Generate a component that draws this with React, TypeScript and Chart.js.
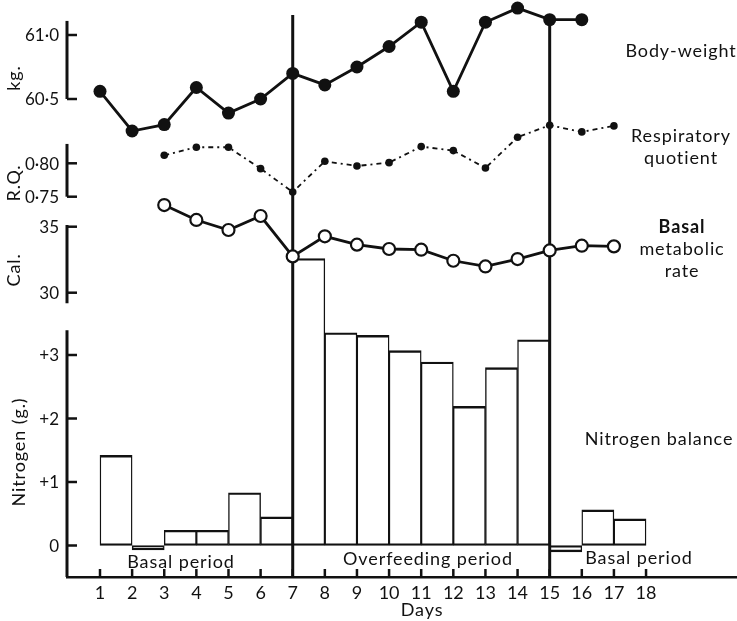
import React, { useEffect, useRef } from "react";
import { Chart, registerables } from "chart.js";

Chart.register(...registerables);

// ---------- data ----------
const dayTicks = [1, 2, 3, 4, 5, 6, 7, 8, 9, 10, 11, 12, 13, 14, 15, 16, 17, 18];

const weightDays = [1, 2, 3, 4, 5, 6, 7, 8, 9, 10, 11, 12, 13, 14, 15, 16];
const bodyWeight = [60.56, 60.25, 60.3, 60.59, 60.39, 60.5, 60.7, 60.61, 60.75, 60.91, 61.1, 60.56, 61.1, 61.21, 61.12, 61.12];

const rqDays = [3, 4, 5, 6, 7, 8, 9, 10, 11, 12, 13, 14, 15, 16, 17];
const respiratoryQuotient = [0.812, 0.824, 0.824, 0.792, 0.757, 0.803, 0.796, 0.801, 0.825, 0.819, 0.793, 0.839, 0.857, 0.847, 0.856];

const bmrDays = [3, 4, 5, 6, 7, 8, 9, 10, 11, 12, 13, 14, 15, 16, 17];
const basalMetabolicRate = [36.64, 35.51, 34.75, 35.81, 32.75, 34.27, 33.64, 33.31, 33.26, 32.42, 31.99, 32.55, 33.2, 33.56, 33.51];

// each bar spans from day d to day d+1
const nitrogenDays = [1, 2, 3, 4, 5, 6, 7, 8, 9, 10, 11, 12, 13, 14, 15, 16, 17];
const nitrogenBalance = [1.42, -0.07, 0.24, 0.24, 0.83, 0.45, 4.52, 3.35, 3.31, 3.07, 2.89, 2.19, 2.8, 3.24, -0.1, 0.56, 0.42];

const periodBoundaries = [7, 15];
const periodBoundaryTopKg = [61.156, 61.12];

const kgTicks = [60.5, 61.0];
const rqTicks = [0.75, 0.8];
const calTicks = [30, 35];
const nitrogenTicks = [0, 1, 2, 3];

// ---------- styling ----------
const INK = "#111111";
const FONT = "Lato, 'Open Sans', sans-serif";

const W = 737;
const H = 621;

const fmtDot = (v: number, digits: number) => v.toFixed(digits).replace(".", "\u00b7");

// visible axis segments (value ranges) with their tick labels
const axisSegments = [
  { id: "yKg", from: 60.5, to: 61.11, ticks: kgTicks, fmt: (v: number) => fmtDot(v, 1) },
  { id: "yRq", from: 0.75, to: 0.829, ticks: rqTicks, fmt: (v: number) => fmtDot(v, 2) },
  { id: "yCal", from: 29.2, to: 35.13, ticks: calTicks, fmt: (v: number) => String(v) },
  { id: "yN", from: -0.496, to: 3.39, ticks: nitrogenTicks, fmt: (v: number) => (v === 0 ? "0" : "+" + v) },
];

function resetCtx(ctx: CanvasRenderingContext2D) {
  ctx.setLineDash([]);
  ctx.lineDashOffset = 0;
  ctx.globalAlpha = 1;
  ctx.globalCompositeOperation = "source-over";
  ctx.shadowColor = "rgba(0,0,0,0)";
  ctx.shadowBlur = 0;
  ctx.lineJoin = "miter";
  ctx.lineCap = "butt";
  ctx.strokeStyle = INK;
  ctx.fillStyle = INK;
}

const decorPlugin = {
  id: "decor",
  afterDraw(chart: any) {
    const ctx = chart.ctx as CanvasRenderingContext2D;
    const left = chart.chartArea.left;
    ctx.save();
    resetCtx(ctx);
    ctx.font = `17px ${FONT}`;
    ctx.textAlign = "right";
    ctx.textBaseline = "middle";
    for (const seg of axisSegments) {
      const s = chart.scales[seg.id];
      const y1 = s.getPixelForValue(seg.from);
      const y2 = s.getPixelForValue(seg.to);
      ctx.lineWidth = 3;
      ctx.beginPath();
      ctx.moveTo(left, y1);
      ctx.lineTo(left, y2);
      ctx.stroke();
      ctx.lineWidth = 2.5;
      for (const t of seg.ticks) {
        const y = s.getPixelForValue(t);
        ctx.beginPath();
        ctx.moveTo(left, y);
        ctx.lineTo(left + 10, y);
        ctx.stroke();
        ctx.fillText(seg.fmt(t), left - 8, y + 1);
      }
    }
    const xs = chart.scales.x;
    const bottom = chart.chartArea.bottom;
    ctx.lineWidth = 2.5;
    for (const d of dayTicks) {
      const x = xs.getPixelForValue(d);
      ctx.beginPath();
      ctx.moveTo(x, bottom);
      ctx.lineTo(x, bottom - 8);
      ctx.stroke();
    }
    ctx.restore();
  },
};

function yAxis(min: number, max: number) {
  return {
    type: "linear" as const,
    position: "left" as const,
    display: false,
    min,
    max,
  };
}

type Label = { text: string; x: number; y: number; bold?: boolean; rotate?: boolean; size?: number };

const labels: Label[] = [
  { text: "Body-weight", x: 681, y: 50 },
  { text: "Respiratory", x: 681, y: 135 },
  { text: "quotient", x: 681, y: 157 },
  { text: "Basal", x: 682, y: 226, bold: true },
  { text: "metabolic", x: 682, y: 248 },
  { text: "rate", x: 682, y: 270 },
  { text: "Nitrogen balance", x: 659, y: 438 },
  { text: "Basal period", x: 181, y: 561 },
  { text: "Overfeeding period", x: 428, y: 558 },
  { text: "Basal period", x: 639, y: 557 },
  { text: "Days", x: 422, y: 609 },
  { text: "kg.", x: 13, y: 78, rotate: true },
  { text: "R.Q.", x: 13, y: 183, rotate: true },
  { text: "Cal.", x: 13, y: 270, rotate: true },
  { text: "Nitrogen (g.)", x: 18, y: 452, rotate: true },
];

export default function App() {
  const canvasRef = useRef<HTMLCanvasElement | null>(null);

  useEffect(() => {
    if (!canvasRef.current) return;

    // chart area spans y 0 .. 577 and x 67 .. 737
    const top = 0;
    const bottom = 577;
    const rangeFor = (vA: number, pA: number, vB: number, pB: number) => {
      const k = (vA - vB) / (pB - pA);
      return { min: vA - (bottom - pA) * k, max: vA + (pA - top) * k };
    };
    const kgR = rangeFor(61.0, 35, 60.5, 99);
    const rqR = rangeFor(0.8, 163.3, 0.75, 196.7);
    const calR = rangeFor(35, 226.7, 30, 292.7);
    const nR = rangeFor(3, 355, 0, 545.5);
    const pxPerDay = 32.12;
    const xMin = 1 - (100 - 67) / pxPerDay;
    const xMax = xMin + (737 - 67) / pxPerDay;

    const lineCommon = {
      type: "line" as const,
      xAxisID: "x",
      clip: false as const,
      borderColor: INK,
      order: 1,
    };

    const datasets: any[] = [
      {
        type: "bar",
        label: "Nitrogen balance",
        xAxisID: "x",
        yAxisID: "yN",
        data: nitrogenDays.map((d, i) => ({ x: d + 0.5, y: nitrogenBalance[i] })),
        backgroundColor: "#ffffff",
        borderColor: INK,
        borderWidth: { top: 2.4, bottom: 2.4, left: 1.4, right: 1.4 },
        borderSkipped: false,
        barPercentage: 1,
        categoryPercentage: 1,
        clip: false,
        order: 10,
      },
      ...periodBoundaries.map((d, i) => ({
        ...lineCommon,
        label: "period boundary " + d,
        yAxisID: "yKg",
        data: [
          { x: d, y: periodBoundaryTopKg[i] },
          { x: d, y: kgR.min },
        ],
        borderWidth: 3,
        pointRadius: 0,
        order: 5,
      })),
      {
        ...lineCommon,
        label: "Body-weight",
        yAxisID: "yKg",
        data: weightDays.map((d, i) => ({ x: d, y: bodyWeight[i] })),
        borderWidth: 2.8,
        pointRadius: 6.5,
        pointBackgroundColor: INK,
        pointBorderColor: INK,
        pointBorderWidth: 0,
      },
      {
        ...lineCommon,
        label: "Respiratory quotient",
        yAxisID: "yRq",
        data: rqDays.map((d, i) => ({ x: d, y: respiratoryQuotient[i] })),
        borderWidth: 1.8,
        borderDash: [5, 4, 2, 4],
        pointRadius: 3.8,
        pointBackgroundColor: INK,
        pointBorderColor: INK,
        pointBorderWidth: 0,
      },
      {
        ...lineCommon,
        label: "Basal metabolic rate",
        yAxisID: "yCal",
        data: bmrDays.map((d, i) => ({ x: d, y: basalMetabolicRate[i] })),
        borderWidth: 2.8,
        pointRadius: 6,
        pointBackgroundColor: "#ffffff",
        pointBorderColor: INK,
        pointBorderWidth: 2.2,
      },
    ];

    const chart = new Chart(canvasRef.current, {
      type: "line",
      data: { datasets },
      plugins: [decorPlugin],
      options: {
        responsive: false,
        animation: false,
        devicePixelRatio: 1,
        layout: { autoPadding: false, padding: { left: 67, top: top, right: 0, bottom: 0 } },
        plugins: {
          legend: { display: false },
          tooltip: { enabled: false },
        },
        elements: { line: { tension: 0 } },
        scales: {
          x: {
            type: "linear",
            position: "bottom",
            min: xMin,
            max: xMax,
            offset: false,
            grid: { display: false, drawTicks: false },
            border: { display: true, color: INK, width: 2.6 },
            afterFit: (s: any) => {
              s.height = H - bottom;
            },
            afterBuildTicks: (s: any) => {
              s.ticks = dayTicks.map((v) => ({ value: v }));
            },
            ticks: {
              padding: 5,
              color: INK,
              font: { family: FONT, size: 18 },
              maxRotation: 0,
              autoSkip: false,
              callback: (v: any) => String(v),
            },
          },
          yKg: yAxis(kgR.min, kgR.max),
          yRq: yAxis(rqR.min, rqR.max),
          yCal: yAxis(calR.min, calR.max),
          yN: yAxis(nR.min, nR.max),
        },
      } as any,
    });
    return () => chart.destroy();
  }, []);

  return (
    <div style={{ position: "absolute", left: 0, top: 0, width: W, height: H, background: "#fff", overflow: "hidden" }}>
      <canvas ref={canvasRef} width={W} height={H} style={{ position: "absolute", left: 0, top: 0, width: W, height: H }} />
      {labels.map((l, i) => (
        <div
          key={i}
          style={{
            position: "absolute",
            left: l.x,
            top: l.y,
            transform: `translate(-50%, -50%)${l.rotate ? " rotate(-90deg)" : ""}`,
            fontFamily: FONT,
            fontSize: l.size ?? 18,
            letterSpacing: "0.9px",
            fontWeight: l.bold ? 700 : 400,
            color: INK,
            whiteSpace: "nowrap",
            lineHeight: 1,
            pointerEvents: "none",
          }}
        >
          {l.text}
        </div>
      ))}
    </div>
  );
}
